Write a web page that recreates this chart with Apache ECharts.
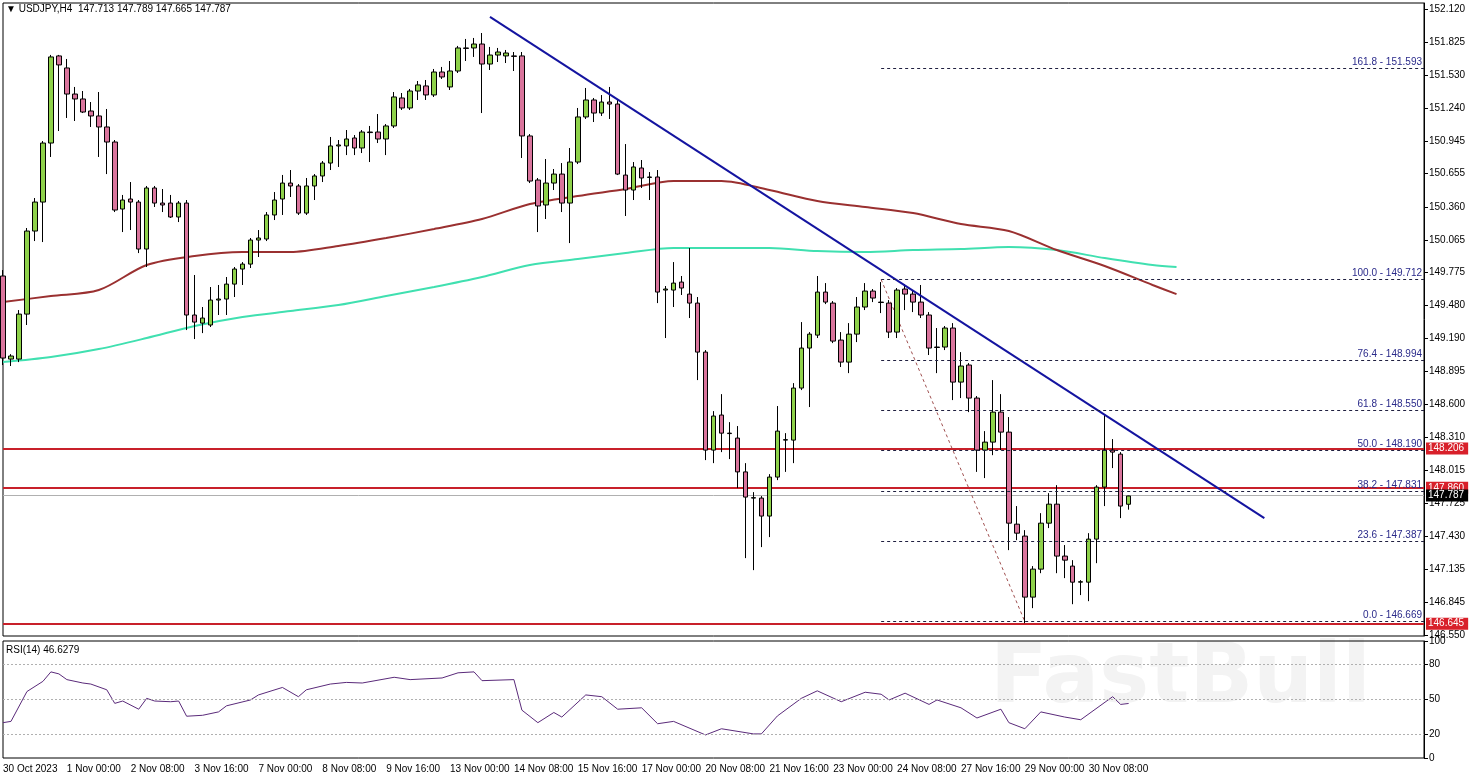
<!DOCTYPE html>
<html>
<head>
<meta charset="utf-8">
<script src="https://cdn.jsdelivr.net/npm/echarts@6/dist/echarts.min.js"></script>
<style>
  html, body { margin: 0; padding: 0; background: #fff; }
  #chart { width: 1479px; height: 780px; }
</style>
</head>
<body>
<div id="chart"></div>
<script>
// USDJPY H4 candles: [open, close, low, high]
var candles = [
  [149.744,149.014,148.952,149.797],[149.005,149.032,148.943,149.049],[149.005,149.405,148.978,149.441],
  [149.405,150.144,149.308,150.171],[150.144,150.402,150.055,150.438],[150.402,150.927,150.046,150.945],
  [150.927,151.693,150.803,151.711],[151.702,151.622,151.034,151.711],[151.595,151.363,151.150,151.675],
  [151.363,151.319,151.123,151.426],[151.319,151.203,151.194,151.390],[151.212,151.168,151.070,151.292],
  [151.168,151.070,150.803,151.381],[151.070,150.936,150.651,151.230],[150.936,150.331,150.313,150.954],
  [150.340,150.420,150.135,150.465],[150.429,150.402,150.153,150.580],[150.402,149.984,149.948,150.420],
  [149.984,150.527,149.824,150.545],[150.527,150.393,150.358,150.545],[150.393,150.376,150.313,150.518],
  [150.393,150.269,150.260,150.465],[150.269,150.393,150.224,150.411],[150.393,149.397,149.263,150.420],
  [149.397,149.334,149.183,149.753],[149.325,149.370,149.236,149.468],[149.308,149.530,149.290,149.646],
  [149.530,149.539,149.397,149.664],[149.539,149.672,149.397,149.735],[149.672,149.806,149.557,149.824],
  [149.806,149.850,149.664,149.868],[149.850,150.064,149.815,150.082],[150.064,150.082,149.913,150.153],
  [150.073,150.287,150.055,150.313],[150.287,150.420,150.242,150.491],[150.429,150.571,150.287,150.643],
  [150.571,150.545,150.447,150.687],[150.545,150.304,150.287,150.562],[150.304,150.545,150.287,150.616],
  [150.545,150.634,150.420,150.651],[150.634,150.749,150.580,150.767],[150.749,150.901,150.687,150.981],
  [150.901,150.910,150.714,150.954],[150.901,150.963,150.820,151.043],[150.972,150.883,150.820,150.998],
  [150.883,151.025,150.838,151.043],[151.025,151.020,150.758,151.079],[151.025,150.963,150.927,151.185],
  [150.963,151.079,150.820,151.096],[151.079,151.337,151.061,151.381],[151.328,151.239,151.221,151.372],
  [151.239,151.390,151.221,151.408],[151.390,151.444,151.310,151.479],[151.435,151.355,151.310,151.488],
  [151.355,151.559,151.337,151.586],[151.559,151.515,151.497,151.604],[151.426,151.568,151.399,151.657],
  [151.568,151.773,151.550,151.791],[151.773,151.769,151.657,151.853],[151.773,151.808,151.693,151.862],
  [151.808,151.630,151.194,151.906],[151.630,151.710,151.577,151.782],[151.710,151.737,151.648,151.773],
  [151.702,151.728,151.639,151.755],[151.702,151.698,151.568,151.737],[151.702,150.990,150.794,151.737],
  [150.990,150.589,150.571,151.007],[150.598,150.367,150.135,150.616],[150.376,150.571,150.251,150.785],
  [150.571,150.651,150.509,150.696],[150.651,150.393,150.313,150.749],[150.393,150.758,150.037,150.883],
  [150.758,151.159,150.740,151.239],[151.159,151.310,151.141,151.417],[151.310,151.194,151.114,151.328],
  [151.194,151.292,151.168,151.354],[151.292,151.274,151.141,151.426],[151.274,150.651,150.642,151.310],
  [150.642,150.509,150.278,150.918],[150.509,150.714,150.420,150.758],[150.705,150.616,150.527,150.776],
  [150.625,150.621,150.420,150.669],[150.625,149.601,149.503,150.687],[149.619,149.628,149.192,149.655],
  [149.619,149.681,149.468,149.868],[149.690,149.637,149.575,149.744],[149.583,149.503,149.370,149.993],
  [149.503,149.067,148.818,149.557],[149.067,148.195,148.106,149.085],[148.195,148.498,148.079,148.542],
  [148.507,148.346,148.177,148.693],[148.346,148.342,148.115,148.444],[148.302,148.001,147.857,148.409],
  [148.001,147.777,147.234,148.079],[147.768,147.772,147.127,147.821],[147.768,147.608,147.332,147.786],
  [147.608,147.955,147.421,147.981],[147.955,148.364,147.928,148.587],[148.284,148.288,148.001,148.346],
  [148.284,148.747,148.079,148.791],[148.747,149.103,148.729,149.334],[149.103,149.227,148.578,149.245],
  [149.218,149.601,149.192,149.744],[149.601,149.512,149.494,149.681],[149.503,149.165,149.147,149.521],
  [149.174,148.978,148.934,149.245],[148.978,149.227,148.880,149.325],[149.227,149.468,149.156,149.557],
  [149.468,149.610,149.441,149.681],[149.610,149.548,149.512,149.628],[149.512,149.508,149.414,149.690],
  [149.503,149.245,149.192,149.530],[149.245,149.619,149.192,149.637],[149.628,149.583,149.441,149.672],
  [149.583,149.512,149.423,149.619],[149.512,149.397,149.370,149.664],[149.397,149.103,149.041,149.423],
  [149.112,149.108,148.880,149.281],[149.112,149.281,149.085,149.299],[149.281,148.800,148.640,149.325],
  [148.800,148.943,148.658,149.067],[148.952,148.658,148.533,148.969],[148.658,148.195,148.001,148.676],
  [148.195,148.266,147.946,148.364],[148.266,148.533,148.150,148.818],[148.533,148.355,148.195,148.693],
  [148.355,147.545,147.305,148.489],[147.536,147.456,147.394,147.697],[147.430,146.887,146.655,147.483],
  [146.887,147.136,146.789,147.163],[147.136,147.545,147.100,147.634],[147.545,147.714,147.501,147.812],
  [147.714,147.252,147.100,147.883],[147.252,147.216,147.056,147.350],[147.163,147.020,146.824,147.216],
  [147.020,147.024,146.905,147.038],[147.020,147.403,146.851,147.456],[147.403,147.866,147.189,147.883],
  [147.866,148.195,147.697,148.507],[148.195,148.177,148.035,148.293],[148.159,147.697,147.590,148.177],
  [147.713,147.787,147.665,147.789]
];
var totalSlots = 179;

// moving averages, read every 6 bars (they run a few bars past the last candle)
var maIdx = [0,6,12,18,24,30,36,42,48,54,60,66,72,78,84,90,96,102,108,114,120,126,132,138,144,147];
var brownMA = [149.512,149.566,149.619,149.842,149.922,149.957,149.957,150.011,150.082,150.162,150.251,150.384,150.456,
  150.518,150.589,150.589,150.509,150.411,150.358,150.304,150.206,150.144,149.975,149.833,149.664,149.583];
var cyanMA = [148.978,149.023,149.094,149.192,149.299,149.379,149.432,149.486,149.566,149.646,149.735,149.842,149.895,
  149.948,149.993,149.993,149.993,149.966,149.957,149.975,149.984,150.002,149.975,149.904,149.842,149.824];

// RSI(14)
var rsiIdx = [0,1,3,5,6,7,8,10,11,13,14,15,17,18,19,21,22,23,25,27,28,31,32,35,37,38,41,43,45,49,51,55,57,59,60,64,
  65,67,69,70,73,75,77,80,82,84,88,90,94,95,97,100,102,105,108,110,111,113,116,117,120,122,125,126,128,130,133,135,139,140,141];
var rsiVal = [30.2,31.3,56.8,65.5,73.6,71.9,67,64.1,63.2,58.3,46.7,48.7,41.7,51,48.7,48.1,48.7,35.7,36.5,39.4,44.6,49.6,
  53.9,60.3,52.4,58.3,63.2,64.6,64.1,69,67,68.4,72.8,73.6,66.1,67,40.9,30.2,38.9,35,53.9,52.4,41.7,42.9,29.3,31.3,19.7,
  25,20.6,20.6,35.9,51,57.4,48.1,56.2,54.5,49.6,55.4,45.8,49.6,42.9,34.2,41.7,30.2,25,39.4,35,32.7,52.4,45.8,46.6];

// trend line and fib swing
var trendIdx = [61, 158];
var trendVal = [152.049, 147.590];
var swingIdx = [110, 128];
var swingVal = [149.712, 146.669];

var fibPct = ["161.8", "100.0", "76.4", "61.8", "50.0", "38.2", "23.6", "0.0"];
var fibVal = [151.593, 149.712, 148.994, 148.550, 148.190, 147.831, 147.387, 146.669];
var redLevels = [148.206, 147.860, 146.645];
var lastPrice = 147.787;

var priceTicks = [146.550,146.845,147.135,147.430,147.725,148.015,148.310,148.600,148.895,149.190,149.480,
  149.775,150.065,150.360,150.655,150.945,151.240,151.530,151.825,152.120];
var rsiTicks = [0, 20, 50, 80, 100];

var dateLabels = ["30 Oct 2023","1 Nov 00:00","2 Nov 08:00","3 Nov 16:00","7 Nov 00:00","8 Nov 08:00","9 Nov 16:00",
  "13 Nov 00:00","14 Nov 08:00","15 Nov 16:00","17 Nov 00:00","20 Nov 08:00","21 Nov 16:00","23 Nov 00:00",
  "24 Nov 08:00","27 Nov 16:00","29 Nov 00:00","30 Nov 08:00"];

var cats = [];
for (var i = 0; i < totalSlots; i++) cats.push(String(i));

function pairs(idx, vals) {
  return idx.map(function (k, j) { return [k, vals[j]]; });
}

var font = "Liberation Sans";
var fibLines = fibVal.map(function (v, j) {
  return [
    { coord: [110, v], label: { formatter: fibPct[j] + " - " + v.toFixed(3) } },
    { coord: [totalSlots - 1, v] }
  ];
});
var redLines = redLevels.map(function (v) {
  return { yAxis: v, lineStyle: { color: "#c8202a", width: 2, type: "solid" },
    label: { show: true, position: "end", formatter: v.toFixed(3), backgroundColor: "#d8202a",
      color: "#fff", fontSize: 10, fontFamily: font, padding: [1, 4, 1, 2], distance: 2 } };
});
redLines.push({ yAxis: lastPrice, lineStyle: { color: "#b0b0b0", width: 1, type: "solid" },
  label: { show: true, position: "end", formatter: lastPrice.toFixed(3), backgroundColor: "#000",
    color: "#fff", fontSize: 10, fontFamily: font, padding: [1, 4, 1, 2], distance: 2 } });

var chart = echarts.init(document.getElementById("chart"));
var option = {
  animation: false,
  backgroundColor: "#fff",
  textStyle: { fontFamily: font },
  grid: [
    { left: 3, right: 55, top: 3, height: 633, show: true, borderColor: "#000", borderWidth: 1 },
    { left: 3, right: 55, top: 641, height: 117, show: true, borderColor: "#000", borderWidth: 1 }
  ],
  xAxis: [
    { type: "category", gridIndex: 0, data: cats, boundaryGap: false,
      axisLine: { show: false }, axisTick: { show: false }, axisLabel: { show: false }, splitLine: { show: false } },
    { type: "category", gridIndex: 1, data: cats, boundaryGap: false,
      axisLine: { show: false }, axisTick: { show: false }, splitLine: { show: false },
      axisLabel: { interval: function (i) { return i % 8 === 0 && i / 8 < dateLabels.length; },
        formatter: function (v, i) { return dateLabels[i / 8] || ""; },
        color: "#000", fontSize: 10, align: "left", margin: 6 } }
  ],
  yAxis: [
    { type: "value", gridIndex: 0, position: "right", min: 146.541, max: 152.173, scale: true,
      axisLine: { show: true, lineStyle: { color: "#000" } },
      axisTick: { show: true, length: 4, customValues: priceTicks, lineStyle: { color: "#000" } },
      axisLabel: { customValues: priceTicks, formatter: function (v) { return v.toFixed(3); },
        color: "#000", fontSize: 10, margin: 5 },
      splitLine: { show: false } },
    { type: "value", gridIndex: 1, position: "right", min: 0, max: 100,
      axisLine: { show: true, lineStyle: { color: "#000" } },
      axisTick: { show: true, length: 4, customValues: rsiTicks, lineStyle: { color: "#000" } },
      axisLabel: { customValues: rsiTicks, color: "#000", fontSize: 10, margin: 5 },
      splitLine: { show: false } }
  ],
  graphic: [
    { type: "text", left: 6, top: 4, style: { text: "▼ USDJPY,H4  147.713 147.789 147.665 147.787",
      fontSize: 10, fontFamily: font, fill: "#000" } },
    { type: "text", left: 6, top: 645, style: { text: "RSI(14) 46.6279", fontSize: 10, fontFamily: font, fill: "#000" } },
    { type: "text", left: 990, top: 638, z: -1, style: { text: "FastBull", fontSize: 84, fontWeight: "bold",
      fontFamily: "DejaVu Sans", fill: "#f3f3f3" } }
  ],
  series: [
    { type: "line", xAxisIndex: 0, yAxisIndex: 0, data: pairs(maIdx, cyanMA), smooth: 0.3, showSymbol: false,
      lineStyle: { color: "#40e0b0", width: 2 }, z: 2 },
    { type: "line", xAxisIndex: 0, yAxisIndex: 0, data: pairs(maIdx, brownMA), smooth: 0.3, showSymbol: false,
      lineStyle: { color: "#9a3030", width: 2 }, z: 2 },
    { type: "candlestick", xAxisIndex: 0, yAxisIndex: 0, data: candles, barWidth: 5, z: 3,
      itemStyle: { color: "#8ed14a", color0: "#d9749c", borderColor: "#000", borderColor0: "#000", borderWidth: 1 },
      markLine: { symbol: "none", silent: true, animation: false, data: redLines, z: 1 } },
    { type: "line", xAxisIndex: 0, yAxisIndex: 0, data: pairs(trendIdx, trendVal), showSymbol: false,
      lineStyle: { color: "#1414a0", width: 2 }, z: 4 },
    { type: "line", xAxisIndex: 0, yAxisIndex: 0, data: pairs(swingIdx, swingVal), showSymbol: false,
      lineStyle: { color: "#a05050", width: 1, type: [3, 3] }, z: 2,
      markLine: { symbol: "none", silent: true, animation: false,
        lineStyle: { color: "#202040", width: 1, type: [3, 3] },
        label: { show: true, position: "insideEndTop", color: "#2a2a8a", fontSize: 10, fontFamily: font, distance: [2, 1] },
        data: fibLines } },
    { type: "line", xAxisIndex: 1, yAxisIndex: 1, data: pairs(rsiIdx, rsiVal), showSymbol: false,
      lineStyle: { color: "#5a2a7a", width: 1 },
      markLine: { symbol: "none", silent: true, animation: false, label: { show: false },
        lineStyle: { color: "#b0b0b0", width: 1, type: [2, 2] },
        data: [{ yAxis: 20 }, { yAxis: 50 }, { yAxis: 80 }] } }
  ]
};
chart.setOption(option);
</script>
</body>
</html>
